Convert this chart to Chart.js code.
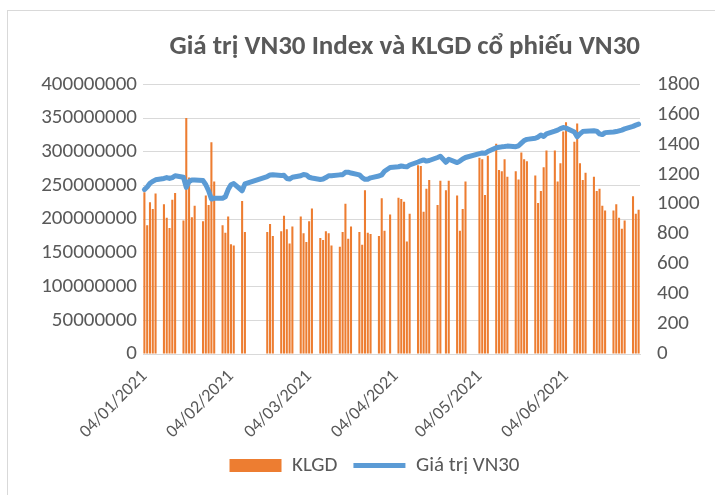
<!DOCTYPE html>
<html>
<head>
<meta charset="utf-8">
<script src="https://cdn.jsdelivr.net/npm/chart.js@4"></script>
<style>
  html, body { margin: 0; padding: 0; background: #fff; }
  canvas { display: block; }
</style>
</head>
<body>
<canvas id="chart" width="715" height="495"></canvas>
<script>
// ngày giao dịch (dd/mm), năm 2021
const ngayGD = [
  '04/01','05/01','06/01','07/01','08/01','11/01','12/01','13/01','14/01','15/01',
  '18/01','19/01','20/01','21/01','22/01','25/01','26/01','27/01','28/01','29/01',
  '01/02','02/02','03/02','04/02','05/02','08/02','09/02','17/02','18/02','19/02',
  '22/02','23/02','24/02','25/02','26/02','01/03','02/03','03/03','04/03','05/03',
  '08/03','09/03','10/03','11/03','12/03','15/03','16/03','17/03','18/03','19/03',
  '22/03','23/03','24/03','25/03','26/03','29/03','30/03','31/03','02/04',
  '05/04','06/04','07/04','08/04','09/04','12/04','13/04','14/04','15/04','16/04',
  '19/04','20/04','22/04','23/04','26/04','27/04','28/04','29/04',
  '04/05','05/05','06/05','07/05','10/05','11/05','12/05','13/05','14/05',
  '17/05','18/05','19/05','20/05','21/05','24/05','25/05','26/05','27/05','28/05',
  '31/05','01/06','02/06','03/06','04/06','07/06','08/06','09/06','10/06','11/06',
  '14/06','15/06','16/06','17/06','18/06','21/06','22/06','23/06','24/06','25/06',
  '28/06','29/06','30/06'
];

// khối lượng giao dịch (cổ phiếu)
const klgd = [
  240000000,191000000,225000000,215000000,238000000,222000000,202000000,187000000,229000000,239000000,
  198000000,350000000,262000000,203000000,220000000,197000000,235000000,221000000,314000000,256000000,
  191000000,180000000,204000000,163000000,161000000,227000000,181000000,181000000,193000000,175000000,
  182000000,205000000,185000000,164000000,189000000,204000000,179000000,166000000,197000000,216000000,
  172000000,169000000,182000000,179000000,161000000,159000000,181000000,223000000,171000000,189000000,
  181000000,162000000,243000000,180000000,178000000,175000000,231000000,183000000,207000000,
  232000000,230000000,226000000,167000000,208000000,280000000,279000000,211000000,245000000,258000000,
  221000000,257000000,243000000,257000000,235000000,183000000,215000000,256000000,
  291000000,289000000,236000000,294000000,312000000,273000000,271000000,289000000,263000000,
  271000000,259000000,299000000,289000000,286000000,265000000,224000000,242000000,277000000,302000000,
  302000000,256000000,283000000,330000000,344000000,315000000,342000000,283000000,258000000,269000000,
  263000000,242000000,245000000,220000000,213000000,213000000,222000000,202000000,186000000,198000000,
  234000000,208000000,214000000
];

// giá trị VN30 Index
const vn30 = [
  1098,1115,1140,1152,1163,1172,1178,1172,1178,1190,
  1180,1112,1152,1162,1162,1158,1130,1090,1035,1040,
  1040,1050,1098,1130,1138,1090,1136,1185,1195,1196,
  1192,1193,1172,1168,1180,1190,1198,1196,1180,1175,
  1165,1168,1178,1190,1190,1196,1197,1213,1214,1208,
  1196,1178,1166,1167,1176,1188,1196,1220,1245,
  1250,1255,1252,1250,1262,1282,1290,1296,1288,1292,
  1312,1320,1280,1300,1278,1288,1302,1312,
  1338,1342,1340,1352,1377,1380,1383,1385,1388,
  1384,1390,1408,1425,1433,1440,1448,1462,1452,1470,
  1488,1495,1505,1512,1508,1482,1450,1470,1485,1488,
  1490,1488,1470,1465,1478,1482,1485,1490,1495,1503,
  1520,1528,1535
];

const yTicksLeft = [0, 50000000, 100000000, 150000000, 200000000, 250000000, 300000000, 350000000, 400000000];
const yTicksRight = [0, 200, 400, 600, 800, 1000, 1200, 1400, 1600, 1800];

// trục ngày: mọi ngày lịch từ 04/01 đến 30/06
const nhan = [];
const pad = n => String(n).padStart(2, '0');
for (let d = new Date(2021, 0, 4); d <= new Date(2021, 5, 30); d.setDate(d.getDate() + 1)) {
  nhan.push(pad(d.getDate()) + '/' + pad(d.getMonth() + 1) + '/2021');
}
const klgdTheoNgay = nhan.map(l => {
  const i = ngayGD.indexOf(l.slice(0, 5));
  return i < 0 ? null : klgd[i];
});
const vn30TheoNgay = nhan.map(l => {
  const i = ngayGD.indexOf(l.slice(0, 5));
  return i < 0 ? null : vn30[i];
});

const textColor = '#595959';
const fontFam = "Calibri, Carlito, Lato, 'Open Sans', sans-serif";

const frame = {
  id: 'frame',
  beforeDraw(chart) {
    const ctx = chart.ctx;
    ctx.save();
    ctx.fillStyle = '#fff';
    ctx.fillRect(0, 0, chart.width, chart.height);
    ctx.strokeStyle = '#d9d9d9';
    ctx.lineWidth = 1;
    ctx.strokeRect(7.5, 10.5, 720, 500);
    ctx.restore();
  }
};

new Chart(document.getElementById('chart'), {
  data: {
    labels: nhan,
    datasets: [
      {
        type: 'bar',
        label: 'KLGD',
        data: klgdTheoNgay,
        backgroundColor: '#ED7D31',
        borderWidth: 0,
        barPercentage: 0.74,
        categoryPercentage: 1,
        yAxisID: 'y',
        pointStyle: 'rect',
        order: 2
      },
      {
        type: 'line',
        label: 'Giá trị VN30',
        data: vn30TheoNgay,
        borderColor: '#5B9BD5',
        backgroundColor: '#5B9BD5',
        borderWidth: 5,
        borderCapStyle: 'round',
        borderJoinStyle: 'round',
        pointRadius: 0,
        pointStyle: 'line',
        spanGaps: true,
        tension: 0,
        yAxisID: 'y1',
        order: 1
      }
    ]
  },
  options: {
    responsive: false,
    animation: false,
    devicePixelRatio: 1,
    layout: { padding: { left: 34, right: 0, top: 0, bottom: 9 } },
    plugins: {
      title: {
        display: true,
        fullSize: false,
        align: 'end',
        text: 'Giá trị VN30 Index và KLGD cổ phiếu VN30',
        color: textColor,
        font: { family: fontFam, size: 27, weight: 'bold' },
        padding: { top: 31, bottom: 21 }
      },
      legend: {
        position: 'bottom',
        labels: {
          color: textColor,
          font: { family: fontFam, size: 21 },
          usePointStyle: true,
          pointStyleWidth: 52,
          boxHeight: 13,
          padding: 16,
          sort: (a, b) => a.datasetIndex - b.datasetIndex
        }
      },
      tooltip: { enabled: false }
    },
    scales: {
      x: {
        type: 'category',
        offset: true,
        grid: { display: false, drawTicks: false },
        border: { color: '#d9d9d9' },
        ticks: {
          autoSkip: false,
          maxRotation: 45,
          minRotation: 45,
          padding: 12,
          color: textColor,
          font: { family: fontFam, size: 18 },
          callback(v) {
            const l = this.getLabelForValue(v);
            return l.slice(0, 2) === '04' ? l : '';
          }
        },
        afterFit(scale) { scale.height = 85; }
      },
      y: {
        position: 'left',
        min: 0,
        max: 400000000,
        afterBuildTicks(scale) { scale.ticks = yTicksLeft.map(v => ({ value: v })); },
        grid: { color: '#d9d9d9', drawTicks: false },
        border: { display: false },
        ticks: {
          padding: 6,
          color: textColor,
          font: { family: fontFam, size: 21 },
          callback: v => String(v)
        },
        afterFit(scale) { scale.width = 109; }
      },
      y1: {
        position: 'right',
        min: 0,
        max: 1800,
        afterBuildTicks(scale) { scale.ticks = yTicksRight.map(v => ({ value: v })); },
        grid: { drawOnChartArea: false, drawTicks: false },
        border: { display: false },
        ticks: {
          padding: 17,
          color: textColor,
          font: { family: fontFam, size: 21 },
          callback: v => String(v)
        },
        afterFit(scale) { scale.width = 75; }
      }
    }
  },
  plugins: [frame]
});
</script>
</body>
</html>
